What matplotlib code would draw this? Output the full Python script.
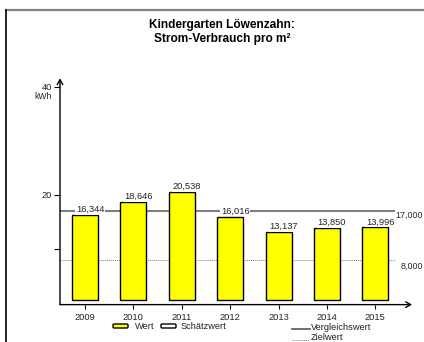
import matplotlib
matplotlib.use("Agg")
import matplotlib.pyplot as plt
from matplotlib.lines import Line2D
from matplotlib.patches import FancyBboxPatch
from matplotlib.transforms import blended_transform_factory

plt.rcParams['font.family'] = ['Liberation Sans', 'DejaVu Sans']

# Daten
jahre = ['2009', '2010', '2011', '2012', '2013', '2014', '2015']
werte = [16.344, 18.646, 20.538, 16.016, 13.137, 13.850, 13.996]
vergleichswert = 17.0
zielwert = 8.0
titel = 'Kindergarten Löwenzahn:\nStrom-Verbrauch pro m²'
y_ticks = [10, 20, 40]
y_ticklabels = ['', '20', '40']

W, H = 424, 342
fs = 6.7


def fx(px):
    return px / W


def fy(py):
    return 1 - py / H


def fmt(v):
    return f"{v:.3f}".replace('.', ',')


fig = plt.figure(figsize=(4.24, 3.42), dpi=100)

# Rahmen oben / links
fig.add_artist(Line2D([fx(6), 1], [fy(9.5), fy(9.5)], color='#808080', lw=1.6))
fig.add_artist(Line2D([fx(6), fx(6)], [fy(9.5), 0], color='black', lw=1.2))

fig.text(fx(222), fy(32), titel, ha='center', va='center', fontsize=8.6,
         fontweight='bold', linespacing=1.15)

# Achsen: 0 bei y=303 px, 40 bei y=87 px
ymin = -0.3
px_per = (303 - 87) / 40
ax_bot = 303 - ymin * px_per
ax = fig.add_axes([fx(60), fy(ax_bot), fx(412) - fx(60), (ax_bot - 87) / H])
ax.set_ylim(ymin, 40)
sp = 48.4
ax.set_xlim(-(85 - 60) / sp, (412 - 85) / sp)
for s in ax.spines.values():
    s.set_visible(False)

x = list(range(len(jahre)))
basis = 0.6
ax.bar(x, [v - basis for v in werte], bottom=basis, width=26 / sp,
       color='#FFFF00', edgecolor='black', linewidth=1, zorder=3)

x_end = (395 - 85) / sp
ax.plot([ax.get_xlim()[0], x_end], [vergleichswert] * 2, color='#808080',
        lw=1.5, zorder=2, solid_capstyle='butt')
ax.plot([ax.get_xlim()[0], x_end], [zielwert] * 2, color='#808080',
        lw=0.7, ls=(0, (1, 1)), zorder=2)
fig.text(fx(423), fy(215), fmt(vergleichswert), ha='right', va='center',
         fontsize=6.4, color='#222222')
fig.text(fx(423), fy(266.5), fmt(zielwert), ha='right', va='center',
         fontsize=6.4, color='#222222')

for xi, v in zip(x, werte):
    ax.annotate(fmt(v), (xi, v), xytext=(5, 1), textcoords='offset pixels',
                ha='center', va='bottom', fontsize=fs, color='#222222',
                bbox=dict(fc='white', ec='none', pad=0.6), zorder=4)

# Achsenpfeile
ax.annotate('', xy=(0, 41.6), xycoords=('axes fraction', 'data'),
            xytext=(0, ymin), textcoords=('axes fraction', 'data'),
            arrowprops=dict(arrowstyle='->,head_length=0.35,head_width=0.2',
                            lw=1, color='black', shrinkA=0, shrinkB=0),
            annotation_clip=False)
ax.annotate('', xy=(1, ymin), xycoords=('axes fraction', 'data'),
            xytext=(0, ymin), textcoords=('axes fraction', 'data'),
            arrowprops=dict(arrowstyle='->,head_length=0.35,head_width=0.2',
                            lw=1, color='black', shrinkA=0, shrinkB=0),
            annotation_clip=False)

ax.set_yticks(y_ticks)
ax.set_yticklabels(y_ticklabels)
ax.set_xticks(x)
ax.set_xticklabels(jahre)
ax.tick_params(axis='y', length=4, width=0.8, pad=2, labelsize=fs,
               labelcolor='#222222')
ax.tick_params(axis='x', length=3, width=0.8, pad=3, labelsize=fs,
               labelcolor='#222222')
trans = blended_transform_factory(ax.transAxes, ax.transData)
ax.text(-0.023, 38.2, 'kWh', transform=trans, ha='right', va='center',
        fontsize=6.2, color='#222222')

# Legende
fig.add_artist(FancyBboxPatch((fx(113), fy(328)), fx(15), 4 / H,
                              boxstyle='round,pad=0,rounding_size=0.003',
                              fc='#FFFF00', ec='black', lw=1))
fig.text(fx(135), fy(326.5), 'Wert', ha='left', va='center', fontsize=fs,
         color='#222222')
fig.add_artist(FancyBboxPatch((fx(161), fy(328)), fx(15), 4 / H,
                              boxstyle='round,pad=0,rounding_size=0.003',
                              fc='white', ec='black', lw=1))
fig.text(fx(181), fy(326.5), 'Schätzwert', ha='left', va='center', fontsize=fs,
         color='#222222')
fig.add_artist(Line2D([fx(292), fx(310)], [fy(329), fy(329)], color='#555555',
                      lw=1.2))
fig.text(fx(311), fy(328), 'Vergleichswert', ha='left', va='center',
         fontsize=fs, color='#222222')
fig.add_artist(Line2D([fx(292), fx(309)], [fy(339.5), fy(339.5)],
                      color='#808080', lw=0.7, ls=(0, (1, 1))))
fig.text(fx(311), fy(338), 'Zielwert', ha='left', va='center', fontsize=fs,
         color='#222222')

fig.savefig('out.png', dpi=100)
